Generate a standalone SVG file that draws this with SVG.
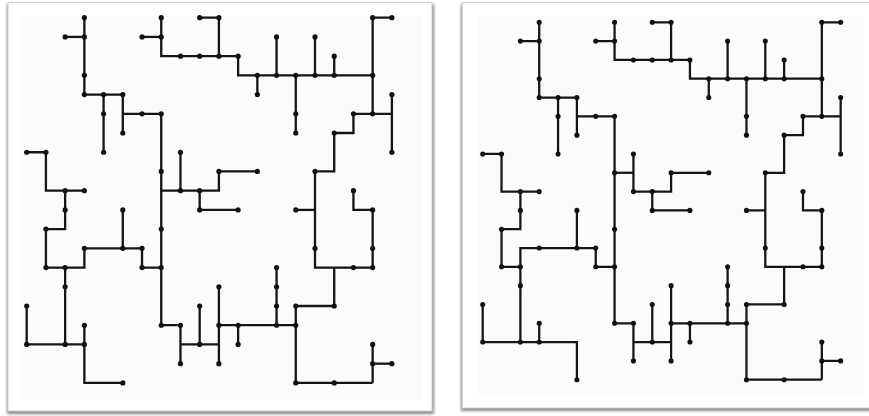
<svg xmlns="http://www.w3.org/2000/svg" width="869" height="416" viewBox="0 0 869 416">
<style>
.card{fill:#ffffff;stroke:#d0d0d0;stroke-width:1}
.inner{fill:#fbfbfb}
.e{fill:none;stroke:#151515;stroke-width:0.12;stroke-linejoin:miter;stroke-linecap:butt}
.n circle{fill:#111111}
</style>
<defs>
<filter id="sh" x="-5%" y="-5%" width="110%" height="110%">
<feGaussianBlur stdDeviation="1.6"/>
</filter>
</defs>
<rect width="869" height="416" fill="#ffffff"/>
<g id="frames">
<rect x="7" y="4" width="427" height="410" fill="#8a8a8a" filter="url(#sh)"/>
<rect class="card" x="8" y="2.5" width="424" height="408.5"/>
<rect class="inner" x="20.7" y="16" width="400.3" height="384"/>
<rect x="461" y="4" width="420" height="407" fill="#8a8a8a" filter="url(#sh)"/>
<rect class="card" x="462.5" y="2.5" width="420" height="405.5"/>
<rect class="inner" x="477.3" y="16" width="386" height="379"/>
</g>
<g id="left" transform="translate(26.7,17.7) scale(19.22)">
<g id="left-connectors">
<polyline class="e" points="3,0 3,4 5,4"/>
<polyline class="e" points="2,1 3,1"/>
<polyline class="e" points="4,4 4,7"/>
<polyline class="e" points="5,4 5,6"/>
<polyline class="e" points="5,5 7,5 7,16 8,16 8,18"/>
<polyline class="e" points="8,17 10,17"/>
<polyline class="e" points="9,15 9,17"/>
<polyline class="e" points="0,7 1,7 1,9 3,9"/>
<polyline class="e" points="2,9 2,11 1,11 1,13 3,13 3,12 6,12 6,13 7,13"/>
<polyline class="e" points="5,10 5,12"/>
<polyline class="e" points="2,13 2,17"/>
<polyline class="e" points="0,15 0,17 3,17"/>
<polyline class="e" points="3,16 3,19 5,19"/>
<polyline class="e" points="10,14 10,18"/>
<polyline class="e" points="10,16 14,16"/>
<polyline class="e" points="11,16 11,17"/>
<polyline class="e" points="13,13 13,16"/>
<polyline class="e" points="18,19 14,19 14,15 16,15 16,13"/>
<polyline class="e" points="15,8 15,13 18,13 18,10 17,10 17,9"/>
<polyline class="e" points="14,10 15,10"/>
<polyline class="e" points="18,17 18,19"/>
<polyline class="e" points="18,18 19,18"/>
<polyline class="e" points="7,9 10,9 10,8 12,8"/>
<polyline class="e" points="8,7 8,9"/>
<polyline class="e" points="9,9 9,10 11,10"/>
<polyline class="e" points="15,8 16,8 16,6 17,6 17,5 19,5"/>
<polyline class="e" points="19,0 18,0 18,5"/>
<polyline class="e" points="19,4 19,7"/>
<polyline class="e" points="7,0 7,2 11,2 11,3 18,3"/>
<polyline class="e" points="9,0 10,0 10,2"/>
<polyline class="e" points="6,1 7,1"/>
<polyline class="e" points="12,3 12,4"/>
<polyline class="e" points="13,1 13,3"/>
<polyline class="e" points="14,3 14,6"/>
<polyline class="e" points="15,1 15,3"/>
<polyline class="e" points="16,2 16,3"/>
</g>
<g id="left-nodes">
<g id="L3-0" class="n"><circle cx="3" cy="0" r=".135"/></g>
<g id="L2-1" class="n"><circle cx="2" cy="1" r=".135"/></g>
<g id="L3-1" class="n"><circle cx="3" cy="1" r=".135"/></g>
<g id="L3-3" class="n"><circle cx="3" cy="3" r=".135"/></g>
<g id="L3-4" class="n"><circle cx="3" cy="4" r=".135"/></g>
<g id="L4-4" class="n"><circle cx="4" cy="4" r=".135"/></g>
<g id="L5-4" class="n"><circle cx="5" cy="4" r=".135"/></g>
<g id="L4-5" class="n"><circle cx="4" cy="5" r=".135"/></g>
<g id="L4-7" class="n"><circle cx="4" cy="7" r=".135"/></g>
<g id="L5-6" class="n"><circle cx="5" cy="6" r=".135"/></g>
<g id="L6-5" class="n"><circle cx="6" cy="5" r=".135"/></g>
<g id="L7-5" class="n"><circle cx="7" cy="5" r=".135"/></g>
<g id="L7-0" class="n"><circle cx="7" cy="0" r=".135"/></g>
<g id="L6-1" class="n"><circle cx="6" cy="1" r=".135"/></g>
<g id="L7-1" class="n"><circle cx="7" cy="1" r=".135"/></g>
<g id="L8-2" class="n"><circle cx="8" cy="2" r=".135"/></g>
<g id="L9-2" class="n"><circle cx="9" cy="2" r=".135"/></g>
<g id="L10-2" class="n"><circle cx="10" cy="2" r=".135"/></g>
<g id="L11-2" class="n"><circle cx="11" cy="2" r=".135"/></g>
<g id="L9-0" class="n"><circle cx="9" cy="0" r=".135"/></g>
<g id="L10-0" class="n"><circle cx="10" cy="0" r=".135"/></g>
<g id="L12-3" class="n"><circle cx="12" cy="3" r=".135"/></g>
<g id="L13-3" class="n"><circle cx="13" cy="3" r=".135"/></g>
<g id="L14-3" class="n"><circle cx="14" cy="3" r=".135"/></g>
<g id="L15-3" class="n"><circle cx="15" cy="3" r=".135"/></g>
<g id="L16-3" class="n"><circle cx="16" cy="3" r=".135"/></g>
<g id="L18-3" class="n"><circle cx="18" cy="3" r=".135"/></g>
<g id="L12-4" class="n"><circle cx="12" cy="4" r=".135"/></g>
<g id="L13-1" class="n"><circle cx="13" cy="1" r=".135"/></g>
<g id="L14-5" class="n"><circle cx="14" cy="5" r=".135"/></g>
<g id="L14-6" class="n"><circle cx="14" cy="6" r=".135"/></g>
<g id="L15-1" class="n"><circle cx="15" cy="1" r=".135"/></g>
<g id="L16-2" class="n"><circle cx="16" cy="2" r=".135"/></g>
<g id="L18-0" class="n"><circle cx="18" cy="0" r=".135"/></g>
<g id="L19-0" class="n"><circle cx="19" cy="0" r=".135"/></g>
<g id="L18-5" class="n"><circle cx="18" cy="5" r=".135"/></g>
<g id="L17-5" class="n"><circle cx="17" cy="5" r=".135"/></g>
<g id="L19-4" class="n"><circle cx="19" cy="4" r=".135"/></g>
<g id="L19-7" class="n"><circle cx="19" cy="7" r=".135"/></g>
<g id="L16-6" class="n"><circle cx="16" cy="6" r=".135"/></g>
<g id="L15-8" class="n"><circle cx="15" cy="8" r=".135"/></g>
<g id="L0-7" class="n"><circle cx="0" cy="7" r=".135"/></g>
<g id="L1-7" class="n"><circle cx="1" cy="7" r=".135"/></g>
<g id="L2-9" class="n"><circle cx="2" cy="9" r=".135"/></g>
<g id="L3-9" class="n"><circle cx="3" cy="9" r=".135"/></g>
<g id="L2-10" class="n"><circle cx="2" cy="10" r=".135"/></g>
<g id="L1-11" class="n"><circle cx="1" cy="11" r=".135"/></g>
<g id="L1-13" class="n"><circle cx="1" cy="13" r=".135"/></g>
<g id="L2-13" class="n"><circle cx="2" cy="13" r=".135"/></g>
<g id="L3-12" class="n"><circle cx="3" cy="12" r=".135"/></g>
<g id="L5-10" class="n"><circle cx="5" cy="10" r=".135"/></g>
<g id="L5-12" class="n"><circle cx="5" cy="12" r=".135"/></g>
<g id="L6-12" class="n"><circle cx="6" cy="12" r=".135"/></g>
<g id="L6-13" class="n"><circle cx="6" cy="13" r=".135"/></g>
<g id="L7-13" class="n"><circle cx="7" cy="13" r=".135"/></g>
<g id="L7-11" class="n"><circle cx="7" cy="11" r=".135"/></g>
<g id="L7-8" class="n"><circle cx="7" cy="8" r=".135"/></g>
<g id="L8-7" class="n"><circle cx="8" cy="7" r=".135"/></g>
<g id="L8-9" class="n"><circle cx="8" cy="9" r=".135"/></g>
<g id="L9-9" class="n"><circle cx="9" cy="9" r=".135"/></g>
<g id="L9-10" class="n"><circle cx="9" cy="10" r=".135"/></g>
<g id="L10-8" class="n"><circle cx="10" cy="8" r=".135"/></g>
<g id="L12-8" class="n"><circle cx="12" cy="8" r=".135"/></g>
<g id="L11-10" class="n"><circle cx="11" cy="10" r=".135"/></g>
<g id="L14-10" class="n"><circle cx="14" cy="10" r=".135"/></g>
<g id="L15-12" class="n"><circle cx="15" cy="12" r=".135"/></g>
<g id="L17-9" class="n"><circle cx="17" cy="9" r=".135"/></g>
<g id="L18-10" class="n"><circle cx="18" cy="10" r=".135"/></g>
<g id="L18-12" class="n"><circle cx="18" cy="12" r=".135"/></g>
<g id="L17-13" class="n"><circle cx="17" cy="13" r=".135"/></g>
<g id="L18-13" class="n"><circle cx="18" cy="13" r=".135"/></g>
<g id="L7-16" class="n"><circle cx="7" cy="16" r=".135"/></g>
<g id="L8-16" class="n"><circle cx="8" cy="16" r=".135"/></g>
<g id="L8-18" class="n"><circle cx="8" cy="18" r=".135"/></g>
<g id="L9-17" class="n"><circle cx="9" cy="17" r=".135"/></g>
<g id="L9-15" class="n"><circle cx="9" cy="15" r=".135"/></g>
<g id="L2-14" class="n"><circle cx="2" cy="14" r=".135"/></g>
<g id="L2-17" class="n"><circle cx="2" cy="17" r=".135"/></g>
<g id="L0-15" class="n"><circle cx="0" cy="15" r=".135"/></g>
<g id="L0-17" class="n"><circle cx="0" cy="17" r=".135"/></g>
<g id="L3-17" class="n"><circle cx="3" cy="17" r=".135"/></g>
<g id="L3-16" class="n"><circle cx="3" cy="16" r=".135"/></g>
<g id="L5-19" class="n"><circle cx="5" cy="19" r=".135"/></g>
<g id="L10-14" class="n"><circle cx="10" cy="14" r=".135"/></g>
<g id="L10-16" class="n"><circle cx="10" cy="16" r=".135"/></g>
<g id="L10-18" class="n"><circle cx="10" cy="18" r=".135"/></g>
<g id="L11-16" class="n"><circle cx="11" cy="16" r=".135"/></g>
<g id="L13-16" class="n"><circle cx="13" cy="16" r=".135"/></g>
<g id="L14-16" class="n"><circle cx="14" cy="16" r=".135"/></g>
<g id="L11-17" class="n"><circle cx="11" cy="17" r=".135"/></g>
<g id="L13-13" class="n"><circle cx="13" cy="13" r=".135"/></g>
<g id="L13-14" class="n"><circle cx="13" cy="14" r=".135"/></g>
<g id="L13-15" class="n"><circle cx="13" cy="15" r=".135"/></g>
<g id="L14-15" class="n"><circle cx="14" cy="15" r=".135"/></g>
<g id="L16-15" class="n"><circle cx="16" cy="15" r=".135"/></g>
<g id="L14-19" class="n"><circle cx="14" cy="19" r=".135"/></g>
<g id="L16-19" class="n"><circle cx="16" cy="19" r=".135"/></g>
<g id="L18-17" class="n"><circle cx="18" cy="17" r=".135"/></g>
<g id="L18-18" class="n"><circle cx="18" cy="18" r=".135"/></g>
<g id="L19-18" class="n"><circle cx="19" cy="18" r=".135"/></g>
</g>
</g>
<g id="right" transform="translate(482.7,22.3) scale(18.84,18.81)">
<g id="right-connectors">
<polyline class="e" points="3,0 3,4 5,4"/>
<polyline class="e" points="2,1 3,1"/>
<polyline class="e" points="4,4 4,7"/>
<polyline class="e" points="5,4 5,6"/>
<polyline class="e" points="5,5 7,5 7,16 8,16 8,18"/>
<polyline class="e" points="8,17 10,17"/>
<polyline class="e" points="9,15 9,17"/>
<polyline class="e" points="0,7 1,7 1,9 3,9"/>
<polyline class="e" points="2,9 2,11 1,11 1,13 2,13"/>
<polyline class="e" points="2,17 2,12 6,12 6,13 7,13"/>
<polyline class="e" points="5,10 5,12"/>
<polyline class="e" points="0,15 0,17 5,17 5,19"/>
<polyline class="e" points="3,16 3,17"/>
<polyline class="e" points="10,14 10,18"/>
<polyline class="e" points="10,16 14,16"/>
<polyline class="e" points="11,16 11,17"/>
<polyline class="e" points="13,13 13,16"/>
<polyline class="e" points="18,19 14,19 14,15 16,15 16,13"/>
<polyline class="e" points="15,8 15,13 18,13 18,10 17,10 17,9"/>
<polyline class="e" points="14,10 15,10"/>
<polyline class="e" points="18,17 18,19"/>
<polyline class="e" points="18,18 19,18"/>
<polyline class="e" points="7,8 8,8"/>
<polyline class="e" points="8,9 10,9 10,8 12,8"/>
<polyline class="e" points="8,7 8,9"/>
<polyline class="e" points="9,9 9,10 11,10"/>
<polyline class="e" points="15,8 16,8 16,6 17,6 17,5 19,5"/>
<polyline class="e" points="19,0 18,0 18,5"/>
<polyline class="e" points="19,4 19,7"/>
<polyline class="e" points="7,0 7,2 11,2 11,3 18,3"/>
<polyline class="e" points="9,0 10,0 10,2"/>
<polyline class="e" points="6,1 7,1"/>
<polyline class="e" points="12,3 12,4"/>
<polyline class="e" points="13,1 13,3"/>
<polyline class="e" points="14,3 14,6"/>
<polyline class="e" points="15,1 15,3"/>
<polyline class="e" points="16,2 16,3"/>
</g>
<g id="right-nodes">
<g id="R3-0" class="n"><circle cx="3" cy="0" r=".135"/></g>
<g id="R2-1" class="n"><circle cx="2" cy="1" r=".135"/></g>
<g id="R3-1" class="n"><circle cx="3" cy="1" r=".135"/></g>
<g id="R3-3" class="n"><circle cx="3" cy="3" r=".135"/></g>
<g id="R3-4" class="n"><circle cx="3" cy="4" r=".135"/></g>
<g id="R4-4" class="n"><circle cx="4" cy="4" r=".135"/></g>
<g id="R5-4" class="n"><circle cx="5" cy="4" r=".135"/></g>
<g id="R4-5" class="n"><circle cx="4" cy="5" r=".135"/></g>
<g id="R4-7" class="n"><circle cx="4" cy="7" r=".135"/></g>
<g id="R5-6" class="n"><circle cx="5" cy="6" r=".135"/></g>
<g id="R6-5" class="n"><circle cx="6" cy="5" r=".135"/></g>
<g id="R7-5" class="n"><circle cx="7" cy="5" r=".135"/></g>
<g id="R7-0" class="n"><circle cx="7" cy="0" r=".135"/></g>
<g id="R6-1" class="n"><circle cx="6" cy="1" r=".135"/></g>
<g id="R7-1" class="n"><circle cx="7" cy="1" r=".135"/></g>
<g id="R8-2" class="n"><circle cx="8" cy="2" r=".135"/></g>
<g id="R9-2" class="n"><circle cx="9" cy="2" r=".135"/></g>
<g id="R10-2" class="n"><circle cx="10" cy="2" r=".135"/></g>
<g id="R11-2" class="n"><circle cx="11" cy="2" r=".135"/></g>
<g id="R9-0" class="n"><circle cx="9" cy="0" r=".135"/></g>
<g id="R10-0" class="n"><circle cx="10" cy="0" r=".135"/></g>
<g id="R12-3" class="n"><circle cx="12" cy="3" r=".135"/></g>
<g id="R13-3" class="n"><circle cx="13" cy="3" r=".135"/></g>
<g id="R14-3" class="n"><circle cx="14" cy="3" r=".135"/></g>
<g id="R15-3" class="n"><circle cx="15" cy="3" r=".135"/></g>
<g id="R16-3" class="n"><circle cx="16" cy="3" r=".135"/></g>
<g id="R18-3" class="n"><circle cx="18" cy="3" r=".135"/></g>
<g id="R12-4" class="n"><circle cx="12" cy="4" r=".135"/></g>
<g id="R13-1" class="n"><circle cx="13" cy="1" r=".135"/></g>
<g id="R14-5" class="n"><circle cx="14" cy="5" r=".135"/></g>
<g id="R14-6" class="n"><circle cx="14" cy="6" r=".135"/></g>
<g id="R15-1" class="n"><circle cx="15" cy="1" r=".135"/></g>
<g id="R16-2" class="n"><circle cx="16" cy="2" r=".135"/></g>
<g id="R18-0" class="n"><circle cx="18" cy="0" r=".135"/></g>
<g id="R19-0" class="n"><circle cx="19" cy="0" r=".135"/></g>
<g id="R18-5" class="n"><circle cx="18" cy="5" r=".135"/></g>
<g id="R17-5" class="n"><circle cx="17" cy="5" r=".135"/></g>
<g id="R19-4" class="n"><circle cx="19" cy="4" r=".135"/></g>
<g id="R19-7" class="n"><circle cx="19" cy="7" r=".135"/></g>
<g id="R16-6" class="n"><circle cx="16" cy="6" r=".135"/></g>
<g id="R15-8" class="n"><circle cx="15" cy="8" r=".135"/></g>
<g id="R0-7" class="n"><circle cx="0" cy="7" r=".135"/></g>
<g id="R1-7" class="n"><circle cx="1" cy="7" r=".135"/></g>
<g id="R2-9" class="n"><circle cx="2" cy="9" r=".135"/></g>
<g id="R3-9" class="n"><circle cx="3" cy="9" r=".135"/></g>
<g id="R2-10" class="n"><circle cx="2" cy="10" r=".135"/></g>
<g id="R1-11" class="n"><circle cx="1" cy="11" r=".135"/></g>
<g id="R1-13" class="n"><circle cx="1" cy="13" r=".135"/></g>
<g id="R2-13" class="n"><circle cx="2" cy="13" r=".135"/></g>
<g id="R3-12" class="n"><circle cx="3" cy="12" r=".135"/></g>
<g id="R5-10" class="n"><circle cx="5" cy="10" r=".135"/></g>
<g id="R5-12" class="n"><circle cx="5" cy="12" r=".135"/></g>
<g id="R6-12" class="n"><circle cx="6" cy="12" r=".135"/></g>
<g id="R6-13" class="n"><circle cx="6" cy="13" r=".135"/></g>
<g id="R7-13" class="n"><circle cx="7" cy="13" r=".135"/></g>
<g id="R7-11" class="n"><circle cx="7" cy="11" r=".135"/></g>
<g id="R7-8" class="n"><circle cx="7" cy="8" r=".135"/></g>
<g id="R8-7" class="n"><circle cx="8" cy="7" r=".135"/></g>
<g id="R8-9" class="n"><circle cx="8" cy="9" r=".135"/></g>
<g id="R9-9" class="n"><circle cx="9" cy="9" r=".135"/></g>
<g id="R9-10" class="n"><circle cx="9" cy="10" r=".135"/></g>
<g id="R10-8" class="n"><circle cx="10" cy="8" r=".135"/></g>
<g id="R12-8" class="n"><circle cx="12" cy="8" r=".135"/></g>
<g id="R11-10" class="n"><circle cx="11" cy="10" r=".135"/></g>
<g id="R14-10" class="n"><circle cx="14" cy="10" r=".135"/></g>
<g id="R15-12" class="n"><circle cx="15" cy="12" r=".135"/></g>
<g id="R17-9" class="n"><circle cx="17" cy="9" r=".135"/></g>
<g id="R18-10" class="n"><circle cx="18" cy="10" r=".135"/></g>
<g id="R18-12" class="n"><circle cx="18" cy="12" r=".135"/></g>
<g id="R17-13" class="n"><circle cx="17" cy="13" r=".135"/></g>
<g id="R18-13" class="n"><circle cx="18" cy="13" r=".135"/></g>
<g id="R7-16" class="n"><circle cx="7" cy="16" r=".135"/></g>
<g id="R8-16" class="n"><circle cx="8" cy="16" r=".135"/></g>
<g id="R8-18" class="n"><circle cx="8" cy="18" r=".135"/></g>
<g id="R9-17" class="n"><circle cx="9" cy="17" r=".135"/></g>
<g id="R9-15" class="n"><circle cx="9" cy="15" r=".135"/></g>
<g id="R2-14" class="n"><circle cx="2" cy="14" r=".135"/></g>
<g id="R2-17" class="n"><circle cx="2" cy="17" r=".135"/></g>
<g id="R0-15" class="n"><circle cx="0" cy="15" r=".135"/></g>
<g id="R0-17" class="n"><circle cx="0" cy="17" r=".135"/></g>
<g id="R3-17" class="n"><circle cx="3" cy="17" r=".135"/></g>
<g id="R3-16" class="n"><circle cx="3" cy="16" r=".135"/></g>
<g id="R5-19" class="n"><circle cx="5" cy="19" r=".135"/></g>
<g id="R10-14" class="n"><circle cx="10" cy="14" r=".135"/></g>
<g id="R10-16" class="n"><circle cx="10" cy="16" r=".135"/></g>
<g id="R10-18" class="n"><circle cx="10" cy="18" r=".135"/></g>
<g id="R11-16" class="n"><circle cx="11" cy="16" r=".135"/></g>
<g id="R13-16" class="n"><circle cx="13" cy="16" r=".135"/></g>
<g id="R14-16" class="n"><circle cx="14" cy="16" r=".135"/></g>
<g id="R11-17" class="n"><circle cx="11" cy="17" r=".135"/></g>
<g id="R13-13" class="n"><circle cx="13" cy="13" r=".135"/></g>
<g id="R13-14" class="n"><circle cx="13" cy="14" r=".135"/></g>
<g id="R13-15" class="n"><circle cx="13" cy="15" r=".135"/></g>
<g id="R14-15" class="n"><circle cx="14" cy="15" r=".135"/></g>
<g id="R16-15" class="n"><circle cx="16" cy="15" r=".135"/></g>
<g id="R14-19" class="n"><circle cx="14" cy="19" r=".135"/></g>
<g id="R16-19" class="n"><circle cx="16" cy="19" r=".135"/></g>
<g id="R18-17" class="n"><circle cx="18" cy="17" r=".135"/></g>
<g id="R18-18" class="n"><circle cx="18" cy="18" r=".135"/></g>
<g id="R19-18" class="n"><circle cx="19" cy="18" r=".135"/></g>
</g>
</g>
</svg>
